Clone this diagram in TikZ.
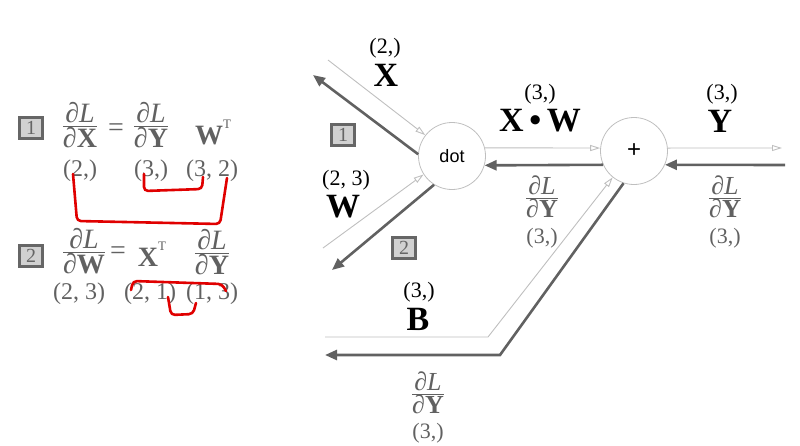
\documentclass[tikz,border=0pt]{standalone}
\usepackage{fontspec}
\setmainfont{Liberation Serif}
\newfontfamily\opfont{Liberation Sans}
\usetikzlibrary{arrows.meta}
\colorlet{fwdcol}{black!25}
\colorlet{bwdcol}{black!62}
\colorlet{txtcol}{black!62}
\colorlet{markcol}{red!88!black}
\newcommand{\dLd}[1]{$\frac{\mbox{∂\textit{L}}}{\mbox{∂\textbf{#1}}}$}
\newcommand{\tp}{\fontsize{13}{13}\selectfont T}

\begin{document}
\begin{tikzpicture}[x=1pt, y=-1pt,
	    op/.style={circle, draw=black!25, line width=0.8pt, minimum size=67pt, inner sep=0pt},
	    fwd/.style={draw=fwdcol, line width=0.9pt, -{Triangle[open, length=10pt, width=6pt]}},
	    bwd/.style={draw=bwdcol, line width=2.6pt, -{Triangle[length=12pt, width=10pt]}},
	    numbox/.style={draw=black!60, line width=2.2pt, fill=black!18, minimum width=23pt, minimum height=21pt, inner sep=0pt, text=black!60, font=\fontsize{20}{20}\selectfont},
	    big/.style={inner sep=0pt, font=\fontsize{34}{34}\selectfont\bfseries},
	    shp/.style={inner sep=0pt, font=\fontsize{22}{22}\selectfont},
	    lshp/.style={inner sep=0pt, text=txtcol, font=\fontsize{24}{24}\selectfont},
	    grad/.style={inner sep=0pt, text=txtcol, font=\fontsize{26}{28}\selectfont},
	    lgrad/.style={inner sep=0pt, text=txtcol, font=\fontsize{28}{30}\selectfont},
	    redmark/.style={draw=markcol, line width=2.6pt, rounded corners=4pt, line cap=round}]
	\useasboundingbox (0,0) rectangle (800,445);

	% left formulas
	\node[numbox] (f1) at (31,128) {1};
	\node[lgrad] (gX) at (80,125) {\dLd{X}};
	\node[lgrad] (eq1) at (116,130) {=};
	\node[lgrad] (gY1) at (151,125) {\dLd{Y}};
	\node[lgrad] (wt) at (213,132) {\textbf{W}\raisebox{16pt}{\tp}};
	\node[lshp] (sx1) at (80,171) {(2,)};
	\node[lshp] (sy1) at (151,171) {(3,)};
	\node[lshp] (sw1) at (212,171) {(3, 2)};

	\node[numbox] (f2) at (31,256) {2};
	\node[lgrad] (gW) at (84,251) {\dLd{W}};
	\node[lgrad] (eq2) at (118,253) {=};
	\node[lgrad] (xt) at (152,254) {\textbf{X}\raisebox{16pt}{\tp}};
	\node[lgrad] (gY2) at (212,252) {\dLd{Y}};
	\node[lshp] (sw2) at (79,294) {(2, 3)};
	\node[lshp] (sx2) at (150,294) {(2, 1)};
	\node[lshp] (sy2) at (212,294) {(1, 3)};

	\draw[redmark] (73,174) -- (77,221) -- (220,224) -- (227,178);
	\draw[redmark] (144,174) -- (144,191) -- (202,189) -- (203,177);
	\draw[redmark] (131,290) -- (133,281) -- (222,284) -- (226,291);
	\draw[redmark] (168,297) -- (171,315) -- (193,314) -- (196,303);

	% graph
	\node[op, font=\opfont\fontsize{18}{18}\selectfont] (dot) at (452,156) {dot};
	\node[op, font=\opfont\fontsize{24}{24}\selectfont] (plus) at (634,151) {+};

	\coordinate (xin) at (328,60);
	\coordinate (xout) at (313,75);
	\coordinate (win) at (323,248);
	\coordinate (wout) at (332,270);
	\coordinate (yout) at (782,148);
	\coordinate (yin) at (785,165);
	\coordinate (bin) at (325,337);
	\coordinate (bcorner) at (488,337);
	\coordinate (gcorner) at (500,355);
	\coordinate (bout) at (325,355);

	\draw[fwd] (xin) -- (dot.142);
	\draw[bwd] (dot.177) -- (xout);
	\draw[fwd] (win) -- (dot.213);
	\draw[bwd] (dot.238) -- (wout);
	\draw[fwd] (dot.14) -- (plus.175);
	\draw[bwd] (plus.204) -- (dot.-16);
	\draw[fwd] (plus.5) -- (yout);
	\draw[bwd] (yin) -- (plus.-24);
	\draw[fwd] (bin) -- (bcorner) -- (plus.231);
	\draw[bwd] (plus.252) -- (gcorner) -- (bout);

	\node[numbox] (b1) at (343,135) {1};
	\node[numbox] (b2) at (404,248) {2};

	\node[shp] (sX) at (385,48) {(2,)};
	\node[big] (X) at (386,75) {X};
	\node[shp] (sW) at (346,180) {(2, 3)};
	\node[big] (W) at (343,207) {W};
	\node[shp] (sXW) at (540,94) {(3,)};
	\node[big] (XW) at (540,121) {X\,•\,W};
	\node[shp] (sY) at (722,94) {(3,)};
	\node[big] (Y) at (720,121) {Y};
	\node[shp] (sB) at (419,292) {(3,)};
	\node[big] (B) at (418,319) {B};

	\node[grad] (g1) at (542,197) {\dLd{Y}};
	\node[shp, text=txtcol] (sg1) at (542,238) {(3,)};
	\node[grad] (g2) at (725,197) {\dLd{Y}};
	\node[shp, text=txtcol] (sg2) at (725,238) {(3,)};
	\node[grad] (g3) at (428,393) {\dLd{Y}};
	\node[shp, text=txtcol] (sg3) at (428,433) {(3,)};
\end{tikzpicture}
\end{document}
